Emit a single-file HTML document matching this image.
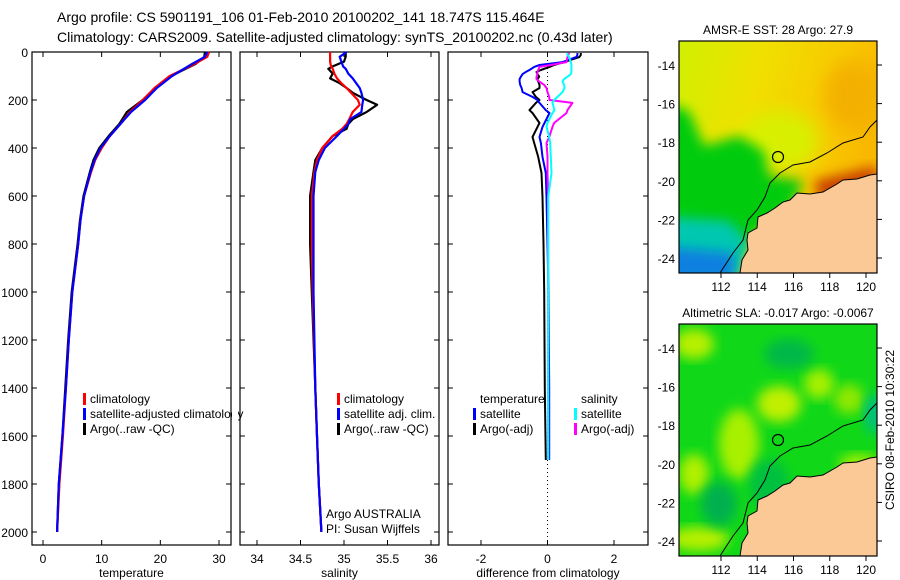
<!DOCTYPE html>
<html><head><meta charset="utf-8"><style>
body{margin:0;background:#fff}
svg{display:block;font-family:"Liberation Sans",sans-serif}
</style></head><body>
<svg id="c" width="900" height="580" viewBox="0 0 900 580">
<defs>
<filter id="bl" x="-20%" y="-20%" width="140%" height="140%"><feGaussianBlur stdDeviation="9"/></filter>
<filter id="bl2" x="-20%" y="-20%" width="140%" height="140%"><feGaussianBlur stdDeviation="6"/></filter>
<linearGradient id="sstBase" x1="0" y1="0" x2="1" y2="0.3"><stop offset="0" stop-color="#d0f000"/><stop offset="0.4" stop-color="#f0e000"/><stop offset="0.8" stop-color="#f8c800"/><stop offset="1" stop-color="#f8b800"/></linearGradient>
<clipPath id="m1c"><rect x="0" y="0" width="198" height="232"/></clipPath>
</defs>
<text x="57" y="22" font-size="14">Argo profile: CS 5901191_106 01-Feb-2010 20100202_141 18.747S 115.464E</text>
<text x="57" y="42" font-size="14">Climatology: CARS2009. Satellite-adjusted climatology: synTS_20100202.nc (0.43d later)</text>
<g id="plots"></g>
<text transform="translate(894,430) rotate(-90)" font-size="12" text-anchor="middle">CSIRO 08-Feb-2010 10:30:22</text>
</svg>
<script>
// ---- data ----
const depthT = [0,20,50,100,150,200,250,300,350,400,450,500,600,700,800,1000,1200,1400,1600,1800,2000];
const tempClim = [28.3,28.0,25.8,21.6,19.0,17.0,14.8,13.2,11.4,10.0,8.9,8.2,7.0,6.4,6.0,5.0,4.4,3.9,3.4,2.8,2.4];
const tempSat  = [28.0,27.6,25.4,22.0,19.4,17.4,15.0,13.2,11.4,9.8,8.8,8.1,7.0,6.4,6.0,5.0,4.4,3.9,3.3,2.7,2.4];
const tempArgo = [27.6,27.5,26.0,21.8,19.2,17.0,14.3,13.0,11.2,9.6,8.6,8.0,6.9,6.3,5.9,4.9,4.3,3.8,3.3,2.7,2.4];
const depthS = [0,20,40,60,70,90,110,130,150,170,200,220,250,280,300,320,350,400,450,500,600,800,1000,1400,1600,1800,2000];
const salClim = [34.84,34.84,34.84,34.85,34.87,34.89,34.92,34.97,35.03,35.08,35.16,35.18,35.10,35.06,35.03,34.98,34.87,34.75,34.69,34.66,34.63,34.63,34.64,34.67,34.69,34.71,34.74];
const salSat  = [35.03,34.95,34.97,34.99,35.02,35.05,35.10,35.14,35.18,35.20,35.22,35.21,35.20,35.07,35.05,35.00,34.92,34.78,34.71,34.67,34.65,34.65,34.65,34.67,34.69,34.71,34.74];
const salArgo = [35.02,35.02,35.00,34.87,34.82,34.87,34.84,34.95,35.03,35.10,35.26,35.38,35.26,35.10,35.05,35.03,34.87,34.75,34.67,34.65,34.61,34.61,34.63,34.67,34.69,34.71,34.74];
const depthD = [4,12,21,42,54,62,75,83,92,103,113,123,137,150,167,187,200,212,242,254,296,312,354,379,437,504,604,800,1000,1400,1700];
const dTempSat  = [0.9,0.9,0.87,0.45,-0.24,-0.4,-0.54,-0.65,-0.75,-0.8,-0.84,-0.84,-0.82,-0.78,-0.75,-0.45,-0.3,-0.24,-0.05,0.06,-0.09,-0.15,-0.24,-0.2,-0.15,-0.05,-0.03,0.0,0.03,0.05,0.05];
const dTempArgo = [1.0,1.0,0.96,0.5,0.2,0.06,-0.2,-0.33,-0.3,-0.25,-0.3,-0.28,-0.24,-0.24,-0.45,-0.35,-0.24,-0.35,-0.54,-0.45,-0.24,-0.3,-0.45,-0.4,-0.28,-0.18,-0.15,-0.12,-0.1,-0.08,-0.05];
const dSalSat  = [0.6,0.6,0.65,0.7,0.72,0.72,0.72,0.72,0.7,0.6,0.5,0.45,0.5,0.51,0.45,0.3,0.2,0.15,0.21,0.15,0.0,-0.03,0.05,0.08,0.1,0.12,0.02,0.02,0.02,0.02,0.02];
const dSalArgo = [0.66,0.62,0.6,0.57,0.1,-0.24,-0.28,-0.3,-0.3,-0.33,-0.33,-0.25,-0.1,-0.03,0.0,0.05,0.06,0.75,0.6,0.57,0.2,0.15,0.05,-0.03,0.0,0.0,0.02,0.02,0.02,0.02,0.02];
const depthTicks = [0,200,400,600,800,1000,1200,1400,1600,1800,2000];
const tempTicks = [0,10,20,30];
const salTicks = [34,34.5,35,35.5,36];
const diffTicks = [-2,0,2];
const latTicks = [-14,-16,-18,-20,-22,-24];
const lonTicks = [112,114,116,118,120];

const NS='http://www.w3.org/2000/svg';
const root=document.getElementById('plots');
function el(tag,attrs,parent){const e=document.createElementNS(NS,tag);for(const k in attrs)e.setAttribute(k,attrs[k]);(parent||root).appendChild(e);return e;}
function txt(s,x,y,attrs,parent){const t=el('text',Object.assign({x:x,y:y,'font-size':12},attrs||{}),parent);t.textContent=s;return t;}

const Y0=52,Y1=545;
function yPix(d){return Y0+d*0.24;}
function makeX(px0,v0,px1,v1){return v=>px0+(v-v0)*(px1-px0)/(v1-v0);}

function panel(name,x0,x1,xs,ticks,fmt,xlabel,leftLabels){
  const g=el('g',{});
  
  
  const fr=el('rect',{x:x0,y:Y0,width:x1-x0,height:Y1-Y0,fill:'none',stroke:'#000','stroke-width':1.2},g);
  
  
  ticks.forEach(t=>{const x=xs(t);
    el('line',{x1:x,y1:Y1,x2:x,y2:Y1-5,stroke:'#000'},g);
    el('line',{x1:x,y1:Y0,x2:x,y2:Y0+5,stroke:'#000'},g);
    const l=txt(fmt(t),x,Y1+18,{'text-anchor':'middle'},g);
    
    
  });
  depthTicks.forEach(d=>{const y=yPix(d);
    el('line',{x1:x0,y1:y,x2:x0+5,y2:y,stroke:'#000'},g);
    el('line',{x1:x1,y1:y,x2:x1-5,y2:y,stroke:'#000'},g);
    if(leftLabels){const l=txt(String(d),x0-4,y+5,{'text-anchor':'end'},g);
      
      }
  });
  const xl=txt(xlabel,(x0+x1)/2,Y1+32,{'text-anchor':'middle'},g);
  
  
  return g;
}
function series(g,depths,vals,xs,color,name,w){
  const n=Math.min(depths.length,vals.length);
  let d='';for(let i=0;i<n;i++)d+=(i?'L':'M')+xs(vals[i]).toFixed(1)+','+yPix(depths[i]).toFixed(1);
  const p=el('path',{d:d,fill:'none',stroke:color,'stroke-width':w||2.2,'stroke-linejoin':'round'},g);
  
  
}
function legend(g,items,x,y){
  items.forEach((it,i)=>{const yy=y+i*15;
    if(it[1])el('rect',{x:x,y:yy-10,width:3,height:12,fill:it[1]},g);
    const t=txt(it[0],x+7,yy,{},g);
    
    });
}

const xT=makeX(43,0,219,30);
const g1=panel('temperature-panel',32,231,xT,tempTicks,String,'temperature',true);
series(g1,depthT,tempArgo,xT,'#000','argo-temperature-line');
series(g1,depthT,tempClim,xT,'#f00','climatology-temperature-line');
series(g1,depthT,tempSat,xT,'#00f','satellite-temperature-line');
legend(g1,[['climatology','#f00'],['satellite-adjusted climatology','#00f'],['Argo(..raw -QC)','#000']],83,403);
el('rect',{x:232,y:390,width:6,height:40,fill:'#fff'});
const xS=makeX(257,34,431,36);
const g2=panel('salinity-panel',240,439,xS,salTicks,String,'salinity',false);
series(g2,depthS,salArgo,xS,'#000','argo-salinity-line');
series(g2,depthS,salClim,xS,'#f00','climatology-salinity-line');
series(g2,depthS,salSat,xS,'#00f','satellite-salinity-line');
legend(g2,[['climatology','#f00'],['satellite adj. clim.','#00f'],['Argo(..raw -QC)','#000']],337,403);
legend(g2,[['Argo AUSTRALIA',null],['PI: Susan Wijffels',null]],319,518);
const xD=makeX(481,-2,614,2);
const g3=panel('difference-panel',448,648,xD,diffTicks,String,'difference from climatology',false);
el('line',{x1:xD(0),y1:yPix(0),x2:xD(0),y2:Y1,stroke:'#000','stroke-dasharray':'1,3'},g3);
series(g3,depthD,dTempArgo,xD,'#000','argo-temperature-diff-line',2);
series(g3,depthD,dTempSat,xD,'#00f','satellite-temperature-diff-line',2);
series(g3,depthD,dSalArgo,xD,'#f0f','argo-salinity-diff-line',2);
series(g3,depthD,dSalSat,xD,'#0ff','satellite-salinity-diff-line',2);
legend(g3,[['temperature',null],['satellite','#00f'],['Argo(-adj)','#000']],473,403);
legend(g3,[['salinity',null],['satellite','#0ff'],['Argo(-adj)','#f0f']],574,403);

const land='198,133 191,134 178,138 164,139 158,143 144,151 131,153 118,152 111,159 104,161 96,167 88,172 79,176 78,187 69,192 68,199 69,209 63,219 61,232 198,232';
const shelf='M198,79 L191,86 L184,96 L164,102 L148,112 L131,121 L114,124 L101,132 L91,142 L86,156 L78,169 L69,179 L64,199 L54,212 L41,232';
const lonX=makeX(42,112,187,120), latY=makeX(24,-14,217,-24);
function map(name,ox,oy,title,kind){
  const g=el('g',{transform:`translate(${ox},${oy})`});
  
  
  const t=txt(title,99,-7,{'text-anchor':'middle'},g);
  
  
  const c=el('g',{'clip-path':'url(#m1c)'},g);
  if(kind==='sst'){
    el('rect',{x:0,y:0,width:198,height:232,fill:'url(#sstBase)'},c);
    el('ellipse',{cx:175,cy:55,rx:30,ry:35,fill:'#f4b000',filter:'url(#bl)'},c);
    el('ellipse',{cx:100,cy:100,rx:40,ry:30,fill:'#d8f000',filter:'url(#bl)'},c);
    el('polygon',{points:'-20,60 10,70 25,105 60,95 85,110 90,135 125,140 110,170 80,190 40,232 -20,232',fill:'#00cc10',filter:'url(#bl2)'},c);
    el('polygon',{points:'-20,175 50,180 70,200 60,240 -20,240',fill:'#00c8b0',filter:'url(#bl2)'},c);
    el('polygon',{points:'-20,205 55,212 55,240 -20,240',fill:'#0a80e0',filter:'url(#bl2)'},c);
    el('polygon',{points:'135,140 198,125 198,150 140,160',fill:'#c84000',filter:'url(#bl2)'},c);
  } else {
    el('rect',{x:0,y:0,width:198,height:232,fill:'#10d818'},c);
    [[15,20,20,15,'#b8f000'],[100,80,22,18,'#c0f000'],[140,60,15,15,'#a8f000'],[60,120,20,35,'#a8f000'],[15,150,15,20,'#b0f000'],[20,215,30,12,'#b8f000'],[170,75,15,15,'#90e800'],[180,140,20,10,'#a0f000']].forEach(b=>el('ellipse',{cx:b[0],cy:b[1],rx:b[2],ry:b[3],fill:b[4],filter:'url(#bl2)'},c));
    [[110,30,25,15,'#00b848'],[40,180,18,22,'#00b050'],[195,90,10,20,'#00c080'],[90,160,20,25,'#00c040']].forEach(b=>el('ellipse',{cx:b[0],cy:b[1],rx:b[2],ry:b[3],fill:b[4],filter:'url(#bl2)'},c));
  }
  const l=el('polygon',{points:land,fill:'#fbc995',stroke:'#000','stroke-width':1},c);
  
  
  el('path',{d:shelf,fill:'none',stroke:'#000','stroke-width':1},c);
  const ci=el('circle',{cx:99,cy:116,r:5.5,fill:'none',stroke:'#000','stroke-width':1.2},g);
  
  
  el('rect',{x:0,y:0,width:198,height:232,fill:'none',stroke:'#000','stroke-width':1.2},g);
  latTicks.forEach(v=>{const y=latY(v);
    el('line',{x1:198,y1:y,x2:203,y2:y,stroke:'#000'},g);
    const tl=txt(String(v),-4,y+5,{'text-anchor':'end'},g);
    
    });
  lonTicks.forEach(v=>{const x=lonX(v);
    el('line',{x1:x,y1:232,x2:x,y2:237,stroke:'#000'},g);
    const tl=txt(String(v),x,250,{'text-anchor':'middle'},g);
    
    });
}
map('sst-map',679,41,'AMSR-E SST: 28 Argo: 27.9','sst');
map('sla-map',679,324,'Altimetric SLA: -0.017 Argo: -0.0067','sla');
</script>
</body></html>
